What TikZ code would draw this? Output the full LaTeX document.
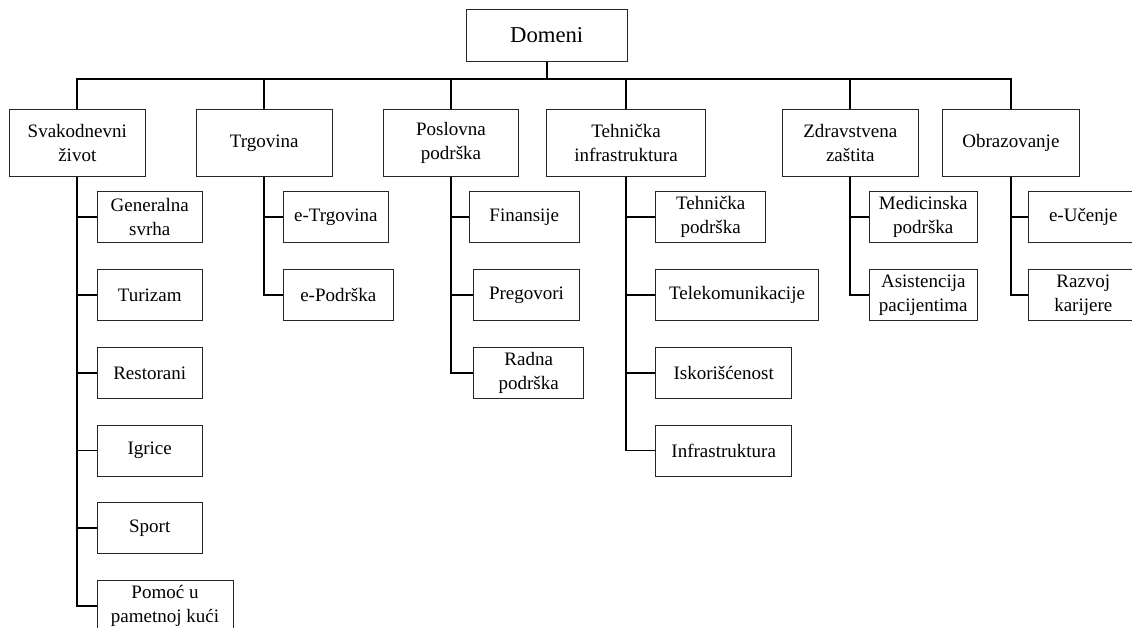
\documentclass[tikz,border=0pt]{standalone}
\usepackage{fontspec}
\setmainfont{Liberation Serif}
\begin{document}
\begin{tikzpicture}[x=1pt,y=-1pt,
  box/.style={draw=black!85, line width=0.9pt, inner sep=0pt, align=center,
    font=\fontsize{19}{24}\selectfont},
  topbox/.style={box, minimum height=67.4pt},
  leaf/.style={box, minimum height=51pt},
  link/.style={line width=1.8pt, black}]
\useasboundingbox (0,0) rectangle (1132,627);
\clip (0,0) rectangle (1132,627);

% root
\node[box, minimum width=161.3pt, minimum height=51.7pt,
      font=\fontsize{22.7}{27}\selectfont] (dom) at (546.7,35.2) {Domeni};
\coordinate (bus) at (0,78.7);

% first level
\node[topbox, minimum width=136pt]   (svak) at (77.3,143)  {Svakodnevni\\život};
\node[topbox, minimum width=135.7pt] (trg)  at (264.2,143) {Trgovina};
\node[topbox, minimum width=135.4pt] (posl) at (451,143)   {Poslovna\\podrška};
\node[topbox, minimum width=159.4pt] (teh)  at (626,143)   {Tehnička\\infrastruktura};
\node[topbox, minimum width=136pt]   (zdr)  at (850.3,143) {Zdravstvena\\zaštita};
\node[topbox, minimum width=136.3pt] (obr)  at (1010.9,143){Obrazovanje};

% second level: Svakodnevni život
\node[leaf, minimum width=105.3pt] (gen)  at (149.7,217.2) {Generalna\\svrha};
\node[leaf, minimum width=105.3pt] (tur)  at (149.7,295)   {Turizam};
\node[leaf, minimum width=105.3pt] (res)  at (149.7,372.8) {Restorani};
\node[leaf, minimum width=105.3pt] (igr)  at (149.7,450.5) {Igrice};
\node[leaf, minimum width=105.3pt] (spo)  at (149.7,528.3) {Sport};
\node[leaf, minimum width=136pt]   (pom)  at (165,606.2)   {Pomoć u\\pametnoj kući};

% Trgovina
\node[leaf, minimum width=105pt] (etrg) at (335.8,217.2) {e-Trgovina};
\node[leaf, minimum width=110pt] (epod) at (338.3,295)   {e-Podrška};

% Poslovna podrška
\node[leaf, minimum width=110pt]   (fin) at (524.3,217.2) {Finansije};
\node[leaf, minimum width=105.6pt] (pre) at (526.5,295)   {Pregovori};
\node[leaf, minimum width=110pt]   (rad) at (528.7,372.8) {Radna\\podrška};

% Tehnička infrastruktura
\node[leaf, minimum width=110pt]   (tpod) at (710.7,217.2) {Tehnička\\podrška};
\node[leaf, minimum width=162.6pt] (tel)  at (737,295)     {Telekomunikacije};
\node[leaf, minimum width=136pt]   (isk)  at (723.7,372.8) {Iskorišćenost};
\node[leaf, minimum width=136pt]   (inf)  at (723.7,450.5) {Infrastruktura};

% Zdravstvena zaštita
\node[leaf, minimum width=108.7pt] (med) at (923.3,217.2) {Medicinska\\podrška};
\node[leaf, minimum width=108.7pt] (asi) at (923.3,295)   {Asistencija\\pacijentima};

% Obrazovanje
\node[leaf, minimum width=110pt] (euc) at (1083.3,217.2) {e-Učenje};
\node[leaf, minimum width=110pt] (raz) at (1083.3,295)   {Razvoj\\karijere};

% root to first level
\draw[link] (dom.south) -- (dom.south |- bus);
\draw[link] (svak.north) -- (svak.north |- bus) -- (obr.north |- bus) -- (obr.north);
\foreach \n in {trg,posl,teh,zdr}
  \draw[link] (\n.north) -- (\n.north |- bus);

% first level to second level
\foreach \p/\last/\kids in {svak/pom/{gen,tur,res,igr,spo},
                            trg/epod/{etrg},
                            posl/rad/{fin,pre},
                            teh/inf/{tpod,tel,isk},
                            zdr/asi/{med},
                            obr/raz/{euc}} {
  \draw[link] (\p.south) -- (\p.south |- \last.west) -- (\last.west);
  \foreach \k in \kids
    \draw[link] (\p.south |- \k.west) -- (\k.west);
}
\end{tikzpicture}
\end{document}
